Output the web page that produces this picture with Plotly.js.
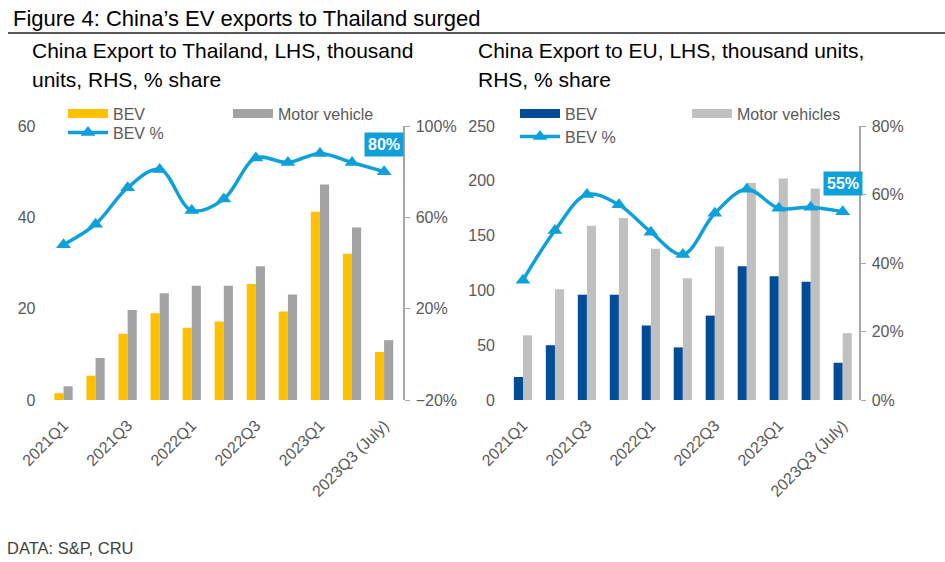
<!DOCTYPE html>
<html>
<head>
<meta charset="utf-8">
<script src="https://cdn.plot.ly/plotly-3.0.1.min.js"></script>
<style>html,body{margin:0;padding:0;background:#fff;}#chart{width:945px;height:562px;}</style>
</head>
<body>
<div id="chart"></div>
<script>
// ---- data ----
const quarters = ["2021Q1","2021Q2","2021Q3","2021Q4","2022Q1","2022Q2","2022Q3","2022Q4","2023Q1","2023Q2","2023Q3 (July)"];
const tickLabels = ["2021Q1","2021Q3","2022Q1","2022Q3","2023Q1","2023Q3 (July)"];

const thBEV   = [1.5, 5.3, 14.5, 19.0, 15.8, 17.2, 25.4, 19.4, 41.2, 32.0, 10.5];
const thMotor = [3.0, 9.2, 19.7, 23.4, 25.0, 25.0, 29.3, 23.1, 47.2, 37.8, 13.1];
const thShare = [48, 57, 73, 81, 63, 68, 86, 84, 88, 84, 80];

const euBEV   = [21, 50, 96, 96, 68, 48, 77, 122, 113, 108, 34];
const euMotor = [59, 101, 159, 166, 138, 111, 140, 198, 202, 193, 61];
const euShare = [35, 49.5, 60, 57, 49, 42.5, 54.5, 61.5, 56, 56.3, 55];

const figTitle = "Figure 4: China\u2019s EV exports to Thailand surged";
const leftTitle = ["China Export to Thailand, LHS, thousand", "units, RHS, % share"];
const rightTitle = ["China Export to EU, LHS, thousand units,", "RHS, % share"];
const source = "DATA: S&P, CRU";

// ---- styles ----
const FONT = "Liberation Sans, Arial, sans-serif";
const tickCol = "#595959";
const lineBlue = "#0EA0DB";
const thBevCol = "#FFC000", thMotCol = "#A3A3A3", euBevCol = "#004C97", euMotCol = "#C0C0C0";
const W = 945, H = 562;
const px = v => v / W;
const py = v => 1 - v / H;

const lineStyle = {color:lineBlue, width:3.5, shape:"spline"};
const markStyle = {symbol:"triangle-up", size:13, color:lineBlue};

const traces = [
  // Thailand panel
  {type:"bar", x:quarters, y:thBEV, name:"BEV", marker:{color:thBevCol}, xaxis:"x", yaxis:"y", showlegend:false},
  {type:"bar", x:quarters, y:thMotor, name:"Motor vehicle", marker:{color:thMotCol}, xaxis:"x", yaxis:"y", showlegend:false},
  {type:"scatter", mode:"lines+markers", x:quarters, y:thShare, name:"BEV %", line:lineStyle, marker:markStyle,
   xaxis:"x", yaxis:"y2", legend:"legend3"},
  // EU panel
  {type:"bar", x:quarters, y:euBEV, name:"BEV", marker:{color:euBevCol}, xaxis:"x2", yaxis:"y3", showlegend:false},
  {type:"bar", x:quarters, y:euMotor, name:"Motor vehicles", marker:{color:euMotCol}, xaxis:"x2", yaxis:"y3", showlegend:false},
  {type:"scatter", mode:"lines+markers", x:quarters, y:euShare, name:"BEV %", line:lineStyle, marker:markStyle,
   xaxis:"x2", yaxis:"y4", legend:"legend4"},
  // legend swatches for the bar series (wide swatch like the original)
  {type:"scatter", mode:"lines", x:[null], y:[null], name:"BEV", line:{color:thBevCol, width:9}, xaxis:"x", yaxis:"y", legend:"legend", hoverinfo:"skip"},
  {type:"scatter", mode:"lines", x:[null], y:[null], name:"Motor vehicle", line:{color:thMotCol, width:9}, xaxis:"x", yaxis:"y", legend:"legend", hoverinfo:"skip"},
  {type:"scatter", mode:"lines", x:[null], y:[null], name:"BEV", line:{color:euBevCol, width:9}, xaxis:"x2", yaxis:"y3", legend:"legend2", hoverinfo:"skip"},
  {type:"scatter", mode:"lines", x:[null], y:[null], name:"Motor vehicles", line:{color:euMotCol, width:9}, xaxis:"x2", yaxis:"y3", legend:"legend2", hoverinfo:"skip"}
];

const yDom = [py(400), py(126)];
const xCommon = {type:"category", categoryorder:"array", categoryarray:quarters, tickmode:"array", tickvals:tickLabels, ticktext:tickLabels,
  tickangle:-45, tickfont:{family:FONT, size:16, color:tickCol}, ticklabelstandoff:12, showline:false, ticks:"", showgrid:false, zeroline:false};
const yLeftCommon = {showgrid:false, zeroline:false, showline:false, ticks:"", ticklabelstandoff:11, tickfont:{family:FONT, size:16, color:tickCol}};
const yRightCommon = {showgrid:false, zeroline:false, showline:true, linecolor:"#A6A6A6", linewidth:1.5, ticks:"outside", ticklen:5,
  tickcolor:"#A6A6A6", ticklabelstandoff:3, tickfont:{family:FONT, size:16, color:tickCol}, ticksuffix:"%", side:"right"};

const legBase = {orientation:"h", xanchor:"left", yanchor:"top", bgcolor:"rgba(0,0,0,0)", borderwidth:0,
  font:{family:FONT, size:16, color:tickCol}, itemwidth:40, itemclick:false, itemdoubleclick:false};

const lastIdx = quarters.length - 1;

const layout = {
  width:W, height:H, margin:{l:0,r:0,t:0,b:0}, paper_bgcolor:"#fff", plot_bgcolor:"rgba(0,0,0,0)",
  font:{family:FONT, color:tickCol}, bargap:0.43, bargroupgap:0, barmode:"group", showlegend:true,
  xaxis:Object.assign({}, xCommon, {domain:[px(47.5), px(403)], range:[-0.5, 10.59], anchor:"y"}),
  xaxis2:Object.assign({}, xCommon, {domain:[px(507), px(859)], range:[-0.5, 10.51], anchor:"y3"}),
  yaxis:Object.assign({}, yLeftCommon, {domain:yDom, range:[0,60], dtick:20, anchor:"x"}),
  yaxis2:Object.assign({}, yRightCommon, {overlaying:"y", range:[-20,100], dtick:40, tick0:-20, anchor:"x"}),
  yaxis3:Object.assign({}, yLeftCommon, {domain:yDom, range:[0,250], dtick:50, anchor:"x2"}),
  yaxis4:Object.assign({}, yRightCommon, {overlaying:"y3", range:[0,80], dtick:20, anchor:"x2"}),
  legend: Object.assign({}, legBase, {x:px(63), y:py(96.5), entrywidth:110}),
  legend2:Object.assign({}, legBase, {x:px(515), y:py(96.5), entrywidth:117}),
  legend3:Object.assign({}, legBase, {x:px(63), y:py(115.5)}),
  legend4:Object.assign({}, legBase, {x:px(515), y:py(119.5)}),
  shapes:[{type:"line", xref:"paper", yref:"paper", x0:px(8), x1:1, y0:py(33), y1:py(33), line:{color:"#595959", width:2}}],
  annotations:[
    {xref:"paper", yref:"paper", x:px(11), y:py(18), xanchor:"left", yanchor:"middle", showarrow:false, text:figTitle,
     font:{family:FONT, size:22, color:"#000"}},
    {xref:"paper", yref:"paper", x:px(30), y:py(51), xanchor:"left", yanchor:"middle", showarrow:false, text:leftTitle[0],
     font:{family:FONT, size:21, color:"#000"}},
    {xref:"paper", yref:"paper", x:px(30), y:py(80), xanchor:"left", yanchor:"middle", showarrow:false, text:leftTitle[1],
     font:{family:FONT, size:21, color:"#000"}},
    {xref:"paper", yref:"paper", x:px(476), y:py(51), xanchor:"left", yanchor:"middle", showarrow:false, text:rightTitle[0],
     font:{family:FONT, size:21, color:"#000"}},
    {xref:"paper", yref:"paper", x:px(476), y:py(80), xanchor:"left", yanchor:"middle", showarrow:false, text:rightTitle[1],
     font:{family:FONT, size:21, color:"#000"}},
    {xref:"paper", yref:"paper", x:px(5), y:py(548), xanchor:"left", yanchor:"middle", showarrow:false, text:source,
     font:{family:FONT, size:16.5, color:"#404040"}},
    {xref:"x", yref:"y2", x:quarters[lastIdx], y:thShare[lastIdx], yshift:27, showarrow:false, text:"<b>"+Math.round(thShare[lastIdx])+"%</b>",
     bgcolor:lineBlue, font:{family:FONT, size:16, color:"#fff"}, borderpad:3},
    {xref:"x2", yref:"y4", x:quarters[lastIdx], y:euShare[lastIdx], yshift:28, showarrow:false, text:"<b>"+Math.round(euShare[lastIdx])+"%</b>",
     bgcolor:lineBlue, font:{family:FONT, size:16, color:"#fff"}, borderpad:3}
  ]
};

Plotly.newPlot("chart", traces, layout, {staticPlot:true, displayModeBar:false});
</script>
</body>
</html>
